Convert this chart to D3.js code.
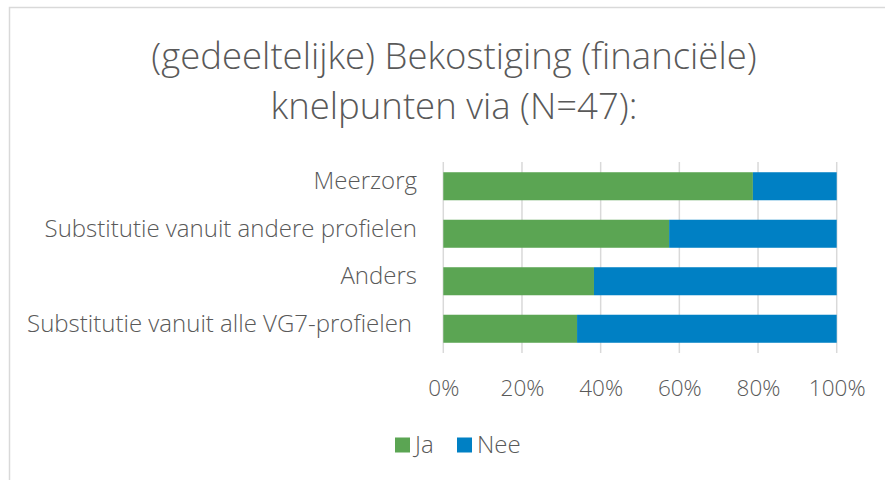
<!DOCTYPE html>
<html><head><meta charset="utf-8">
<script src="https://cdn.jsdelivr.net/npm/d3@7"></script>
<style>body{margin:0;background:#fff;}svg{display:block;font-family:"Open Sans",sans-serif;}</style>
</head><body><svg id="c" width="885" height="480"></svg>
<script>
const categories = ["Meerzorg","Substitutie vanuit andere profielen","Anders","Substitutie vanuit alle VG7-profielen"];
const ja = [78.7, 57.4, 38.3, 34.0];
const nee = [21.3, 42.6, 61.7, 66.0];
const tickValues = [0, 20, 40, 60, 80, 100];
const seriesNames = ["Ja","Nee"];
const colors = ["#5BA553","#0080C4"];
const titleLines = ["(gedeeltelijke) Bekostiging (financiële)","knelpunten via (N=47):"];

const svg = d3.select("#c");
svg.append("rect").attr("x",9.5).attr("y",7.5).attr("width",900).attr("height",500)
  .attr("fill","#fff").attr("stroke","#d9d9d9").attr("stroke-width",1.5);

svg.append("g").selectAll("text").data(titleLines).join("text")
  .attr("x",454).attr("y",(d,i)=>69+i*50).attr("text-anchor","middle")
  .attr("font-size",36.5).attr("font-weight",300).attr("fill","#595959").text(d=>d);

const x = d3.scaleLinear().domain([0,100]).range([443.3,836.7]);
const y = d3.scaleBand().domain(categories).range([162.5,352.5]).paddingInner(0.41).paddingOuter(0.205);

svg.append("g").selectAll("line").data(tickValues).join("line")
  .attr("x1",d=>x(d)).attr("x2",d=>x(d)).attr("y1",162).attr("y2",353)
  .attr("stroke","#d9d9d9").attr("stroke-width",1.5);

const rows = categories.map((c,i)=>({c, vals:[ja[i],nee[i]]}));
const stack = d3.stack().keys([0,1]).value((d,k)=>d.vals[k])(rows);
svg.append("g").selectAll("g").data(stack).join("g").attr("fill",(d,i)=>colors[i])
  .selectAll("rect").data(d=>d).join("rect")
  .attr("x",d=>x(d[0])).attr("width",d=>x(d[1])-x(d[0]))
  .attr("y",d=>y(d.data.c)).attr("height",y.bandwidth());

const yAxis = svg.append("g").attr("transform","translate(417,0)")
  .call(d3.axisLeft(y).tickSize(0).tickPadding(0));
yAxis.select(".domain").remove();
yAxis.selectAll("text").attr("font-size",24).attr("font-weight",300).attr("fill","#595959")
  .attr("font-family","Open Sans").attr("dy","0.12em")
  .attr("dx",d=>d===categories[3]?-5:0);

const xAxis = svg.append("g").attr("transform","translate(0,353)")
  .call(d3.axisBottom(x).tickValues(tickValues).tickFormat(d=>d+"%").tickSize(0).tickPadding(27));
xAxis.select(".domain").remove();
xAxis.selectAll("text").attr("font-size",22.5).attr("font-weight",300).attr("fill","#595959")
  .attr("font-family","Open Sans");

const legX = [395, 457];
const leg = svg.append("g").selectAll("g").data(seriesNames).join("g")
  .attr("transform",(d,i)=>`translate(${legX[i]},437.5)`);
leg.append("rect").attr("width",15).attr("height",15).attr("fill",(d,i)=>colors[i]);
leg.append("text").attr("x",20).attr("y",15).attr("font-size",24)
  .attr("font-weight",300).attr("fill","#595959").text(d=>d);
</script></body></html>
